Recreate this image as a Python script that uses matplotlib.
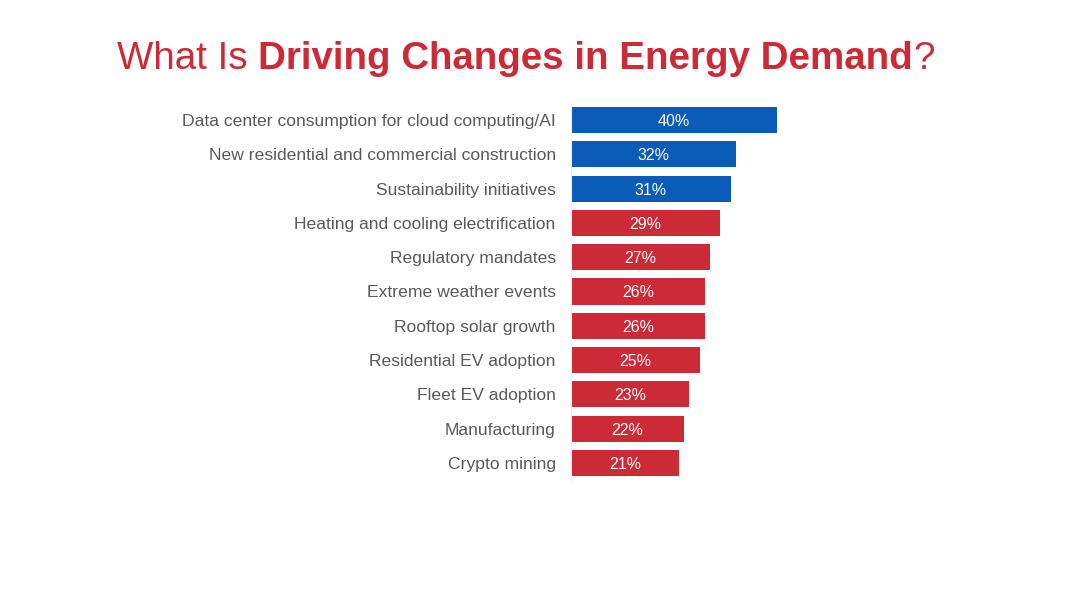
import matplotlib
matplotlib.use("Agg")
import matplotlib.pyplot as plt

categories = [
    "Data center consumption for cloud computing/AI",
    "New residential and commercial construction",
    "Sustainability initiatives",
    "Heating and cooling electrification",
    "Regulatory mandates",
    "Extreme weather events",
    "Rooftop solar growth",
    "Residential EV adoption",
    "Fleet EV adoption",
    "Manufacturing",
    "Crypto mining",
]
values = [40, 32, 31, 29, 27, 26, 26, 25, 23, 22, 21]
highlight = [True, True, True, False, False, False, False, False, False, False, False]

BLUE = "#0A5CB8"
RED = "#CC2A36"
GREY = "#595959"

plt.rcParams["font.family"] = ["Liberation Sans", "DejaVu Sans"]

fig = plt.figure(figsize=(10.68, 6.01), dpi=100)
ax = fig.add_axes([0.5346, 0.2011, 0.2411, 0.6278])

colors = [BLUE if h else RED for h in highlight]
ypos = list(range(len(categories)))
bars = ax.barh(ypos, values, height=0.76, color=colors)
ax.set_ylim(len(categories) - 0.5, -0.5)
ax.set_xlim(0, 50)

for b, v in zip(bars, values):
    ax.text(b.get_width() / 2, b.get_y() + b.get_height() / 2, f"{v}%",
            ha="center", va="center_baseline", color="white", fontsize=11.5)

ax.set_yticks(ypos)
ax.set_yticklabels(categories, fontsize=12.6, color=GREY)
ax.tick_params(axis="y", length=0, pad=11)
ax.set_xticks([])
for s in ["top", "right", "bottom"]:
    ax.spines[s].set_visible(False)
ax.spines["left"].set_color("#EDEDED")
ax.spines["left"].set_linewidth(0.8)

# title with mixed weights
pieces = [("What Is ", "normal"), ("Driving Changes in Energy Demand", "bold"), ("?", "normal")]
fig.canvas.draw()
renderer = fig.canvas.get_renderer()
x = 117 / 1068
y = 1 - 59 / 601
for txt, w in pieces:
    t = fig.text(x, y, txt, fontsize=27.7, fontweight=w, color=RED, va="center", ha="left")
    bb = t.get_window_extent(renderer=renderer)
    x += bb.width / fig.bbox.width

fig.savefig("out.png", dpi=100)
